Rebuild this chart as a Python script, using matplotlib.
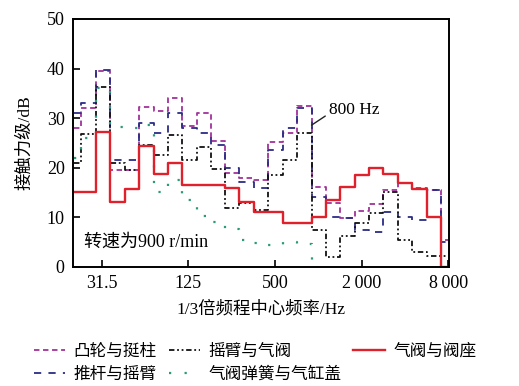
import numpy as np
import matplotlib.pyplot as plt

plt.rcParams['font.family'] = ['Liberation Serif', 'Noto Sans CJK SC']
plt.rcParams['axes.unicode_minus'] = False

# 1/3 octave band centre frequencies (Hz)
FREQ = [20, 25, 31.5, 40, 50, 63, 80, 100, 125, 160, 200, 250, 315, 400,
        500, 630, 800, 1000, 1250, 1600, 2000, 2500, 3150, 4000, 5000,
        6300, 8000]

# contact force level, dB
CAM_TAPPET = [28, 32, 39.5, 19.6, 19.6, 32.3, 31.5, 34, 28.5, 31, 25.5, 19,
              18, 17.5, 25.3, 27, 32.5, 16.2, 13, 9.8, 11.2, 12.6, 15.5,
              16.9, 15.9, 15.5, 5.4]
PUSHROD_ROCKER = [31, 33, 39.7, 21.6, 21.6, 29, 27, 31, 28, 27, 24.6, 20,
                  17.2, 16, 23.6, 28, 32, 14.1, 10.1, 9.9, 7.5, 7, 11, 10.1,
                  9.5, 15.5, 5]
ROCKER_VALVE = [21, 26.8, 36.3, 21, 19.6, 24.5, 22.6, 26.6, 21.5, 24.2, 19.8,
                11.9, 12.9, 11.5, 18.5, 21.6, 27, 7.5, 2.1, 6.3, 8.8, 10.9,
                15.2, 5.4, 3.1, 2.2, 2.2]
SPRING_HEAD = [22, 26, 36, 28.2, 28, 28.6, 15.2, 17.5, 13.5, 10.3, 9, 7.6,
               5.4, 4.8, 4.4, 5, 4.7, 0]
VALVE_SEAT = [15.2, 15.2, 27.3, 13.2, 15.7, 24.4, 18.7, 21.0, 16.6, 16.6,
              16.6, 15.9, 13.2, 11.1, 11.1, 8.8, 8.8, 10.1, 13.6, 16.1, 18.5,
              19.9, 18.8, 16.9, 15.7, 10.1, 0]

LABELS = ['凸轮与挺柱', '推杆与摇臂', '摇臂与气阀', '气阀弹簧与气缸盖', '气阀与阀座']
XTICKS = [31.25, 125, 500, 2000, 8000]
XTICK_LABELS = ['31.5', '125', '500', '2\u2009000', '8\u2009000']


def main():
    fig = plt.figure(figsize=(5.19, 3.86), dpi=100)
    ax = fig.add_axes([0.1407, 0.3083, 0.7245, 0.6425])

    series = [
        (CAM_TAPPET, '#a2329a', (0, (3, 2)), 1.3),
        (PUSHROD_ROCKER, '#2c2c86', (0, (4, 4)), 1.3),
        (ROCKER_VALVE, '#111111', (0, (3, 1.5, 1, 1.5, 1, 1.5)), 1.3),
        (SPRING_HEAD, '#2a9a78', (0, (1, 6)), 1.6),
        (VALVE_SEAT, '#e0212c', '-', 1.7),
    ]
    for (vals, color, ls, lw), label in zip(series, LABELS):
        ax.step(FREQ[:len(vals)], vals, where='mid', color=color,
                linestyle=ls, linewidth=lw, label=label)

    ax.set_xscale('log')
    ax.set_xlim(19.7, 8100)
    ax.set_ylim(0, 50)
    ax.set_xticks(XTICKS)
    ax.set_xticklabels(XTICK_LABELS)
    ax.xaxis.set_minor_locator(plt.NullLocator())
    ax.set_yticks(range(0, 51, 10))
    ax.tick_params(direction='in', length=5, width=1.2, labelsize=13,
                   pad=6)
    for s in ax.spines.values():
        s.set_linewidth(1.4)

    ax.set_xlabel('1/3倍频程中心频率/Hz', fontsize=12.5, labelpad=6)
    ax.set_ylabel('接触力级/dB', fontsize=12.5, labelpad=10)

    ax.text(23.5, 5.0, '转速为900 r/min', fontsize=13, va='center')
    ax.annotate('800 Hz', xy=(897, 28.6), xytext=(1190, 31.6), fontsize=12.5,
                va='center', ha='left',
                arrowprops=dict(arrowstyle='-', color='#222222', lw=1,
                                relpos=(0, 0.3), shrinkA=1, shrinkB=0))

    fig.legend(loc='upper left', bbox_to_anchor=(0.065, 0.11), ncol=3,
               frameon=False, fontsize=12, handlelength=1.9,
               handletextpad=0.5, columnspacing=0.7, labelspacing=0.45,
               borderaxespad=0, borderpad=0)

    fig.savefig('out.png', dpi=100)


if __name__ == '__main__':
    main()
